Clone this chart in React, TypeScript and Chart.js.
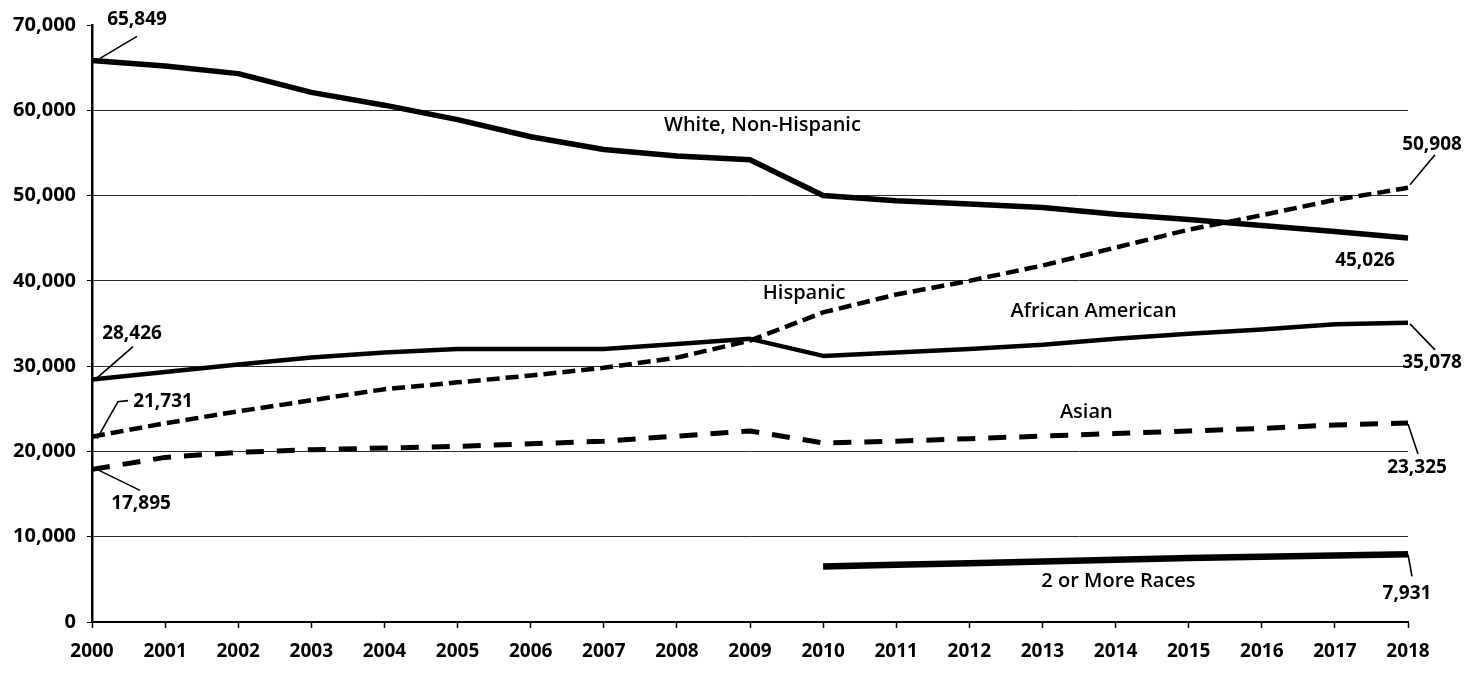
import React, { useEffect, useRef } from 'react';
import { Chart, registerables } from 'chart.js';

Chart.register(...registerables);

// ---------- data ----------
const years = ['2000', '2001', '2002', '2003', '2004', '2005', '2006', '2007', '2008', '2009',
  '2010', '2011', '2012', '2013', '2014', '2015', '2016', '2017', '2018'];

const whiteNonHispanic = [65849, 65200, 64300, 62100, 60600, 58900, 56900, 55400, 54650, 54200,
  50000, 49400, 49000, 48600, 47800, 47200, 46500, 45800, 45026];

const hispanic = [21731, 23300, 24700, 26000, 27300, 28100, 28900, 29800, 31000, 33000,
  36300, 38400, 40000, 41800, 43900, 46000, 47700, 49500, 50908];

const africanAmerican = [28426, 29300, 30200, 31000, 31600, 32000, 32000, 32000, 32600, 33200,
  31200, 31600, 32000, 32500, 33200, 33800, 34300, 34900, 35078];

const asian = [17895, 19300, 19900, 20200, 20400, 20600, 20900, 21200, 21800, 22400,
  21000, 21200, 21500, 21800, 22100, 22400, 22700, 23100, 23325];

const twoOrMoreRaces = [null, null, null, null, null, null, null, null, null, null,
  6500, 6700, 6900, 7100, 7300, 7500, 7650, 7800, 7931];

const yTickValues = [0, 10000, 20000, 30000, 40000, 50000, 60000, 70000];

// ---------- annotation config ----------
const seriesNames = [
  { text: 'White, Non-Hispanic', at: 9.17, value: 58200 },
  { text: 'Hispanic', at: 9.74, value: 38500 },
  { text: 'African American', at: 13.7, value: 36400 },
  { text: 'Asian', at: 13.6, value: 24600 },
  { text: '2 or More Races', at: 14.04, value: 4760 },
];

type Callout = { series: (number | null)[]; index: number; dx: number; dy: number; leader: number[][] };

const callouts: Callout[] = [
  { series: whiteNonHispanic, index: 0, dx: 45, dy: -41, leader: [[8, -2], [45, -24]] },
  { series: africanAmerican, index: 0, dx: 40, dy: -46, leader: [[3, 0], [41, -33]] },
  { series: hispanic, index: 0, dx: 71, dy: -35, leader: [[5, 2], [26, -35], [36, -36]] },
  { series: asian, index: 0, dx: 49, dy: 34, leader: [[5, 0], [48, 21]] },
  { series: hispanic, index: 18, dx: 24, dy: -43, leader: [[2, -3], [27, -33]] },
  { series: whiteNonHispanic, index: 18, dx: -43, dy: 23, leader: [] },
  { series: africanAmerican, index: 18, dx: 24, dy: 40, leader: [[2, 1], [27, 27]] },
  { series: asian, index: 18, dx: 9, dy: 45, leader: [[0, 1], [10, 31]] },
  { series: twoOrMoreRaces, index: 18, dx: -1, dy: 39, leader: [[0, 0], [4, 22]] },
];

const FONT = '"Open Sans", "Noto Sans", sans-serif';

const calloutPlugin = {
  id: 'callouts',
  afterDatasetsDraw(chart: any) {
    const { ctx, scales } = chart;
    const x = scales.x;
    const y = scales.y;
    ctx.save();
    ctx.fillStyle = '#000';
    ctx.textAlign = 'center';
    ctx.textBaseline = 'middle';
    ctx.font = `600 20px ${FONT}`;
    for (const n of seriesNames) {
      ctx.fillText(n.text, x.getPixelForValue(n.at), y.getPixelForValue(n.value));
    }
    ctx.font = `bold 19px ${FONT}`;
    ctx.strokeStyle = '#000';
    ctx.lineWidth = 1.6;
    for (const c of callouts) {
      const v = c.series[c.index] as number;
      const px = x.getPixelForValue(c.index);
      const py = y.getPixelForValue(v);
      if (c.leader.length > 1) {
        ctx.beginPath();
        c.leader.forEach((p, i) => {
          if (i === 0) ctx.moveTo(px + p[0], py + p[1]);
          else ctx.lineTo(px + p[0], py + p[1]);
        });
        ctx.stroke();
      }
      ctx.fillText(v.toLocaleString('en-US'), px + c.dx, py + c.dy);
    }
    ctx.restore();
  },
};

export default function App() {
  const ref = useRef<HTMLCanvasElement | null>(null);

  useEffect(() => {
    if (!ref.current) return;
    const chart = new Chart(ref.current, {
      type: 'line',
      data: {
        labels: years,
        datasets: [
          { label: 'White, Non-Hispanic', data: whiteNonHispanic, borderColor: '#000', borderWidth: 5.5 },
          { label: 'Hispanic', data: hispanic, borderColor: '#000', borderWidth: 4.5, borderDash: [13, 6] },
          { label: 'African American', data: africanAmerican, borderColor: '#000', borderWidth: 4.5 },
          { label: 'Asian', data: asian, borderColor: '#000', borderWidth: 5, borderDash: [18, 13] },
          { label: '2 or More Races', data: twoOrMoreRaces, borderColor: '#000', borderWidth: 6.5, spanGaps: false },
        ] as any,
      },
      options: {
        responsive: false,
        animation: false,
        devicePixelRatio: 1,
        layout: { padding: { left: 0, right: 70, top: 25, bottom: 0 } },
        elements: {
          point: { radius: 0, hoverRadius: 0 },
          line: { tension: 0, borderCapStyle: 'butt', borderJoinStyle: 'round', fill: false },
        },
        plugins: {
          legend: { display: false },
          tooltip: { enabled: false },
          title: { display: false },
        },
        scales: {
          x: {
            type: 'category',
            offset: false,
            grid: { drawOnChartArea: false, drawTicks: true, tickLength: 6, tickColor: '#000', tickWidth: 1.5 },
            border: { display: true, color: '#000', width: 2 },
            ticks: {
              color: '#000',
              font: { family: FONT, size: 19, weight: 'bold' },
              maxRotation: 0,
              autoSkip: false,
              padding: 12,
            },
            afterFit: (s: any) => { s.height = 58; },
          },
          y: {
            min: 0,
            max: 70000,
            afterBuildTicks: (s: any) => { s.ticks = yTickValues.map((v) => ({ value: v })); },
            grid: {
              color: (c: any) => (c.tick && c.tick.value === 70000 ? 'rgba(0,0,0,0)' : '#2a2a2a'),
              lineWidth: 1,
              drawTicks: true,
              tickLength: 5,
              tickColor: '#000',
            },
            border: { display: true, color: '#000', width: 2.5 },
            ticks: {
              color: '#000',
              font: { family: FONT, size: 20, weight: 'bold' },
              padding: 11,
              callback: (v: any) => Number(v).toLocaleString('en-US'),
            },
            afterFit: (s: any) => { s.width = 92; },
          },
        },
      } as any,
      plugins: [calloutPlugin],
    });
    return () => chart.destroy();
  }, []);

  return (
    <div style={{ position: 'fixed', left: 0, top: 0, width: 1478, height: 680, background: '#fff' }}>
      <canvas ref={ref} width={1478} height={680} style={{ display: 'block', width: 1478, height: 680 }} />
    </div>
  );
}
